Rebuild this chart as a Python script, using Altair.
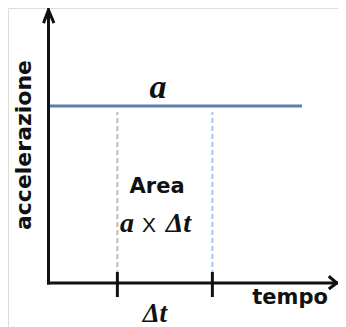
import altair as alt
import pandas as pd

# ---- data (in chart units: tempo on x, accelerazione on y) ----
W, H = 330, 319
x_domain = [-1.705, 12.189]
y_domain = [-1.243, 7.768]

accel_value = 5.0          # constant acceleration a
t_start = 0.0
t_line_end = 10.67
t1, t2 = 2.9, 6.9          # the Δt interval
x_axis_end = 12.14
y_axis_end = 7.71
dash_top = 4.83
tick_low, tick_high = -0.395, 0.31

# arrowheads (chevrons)
arrow_id = ["y", "y", "y", "x", "x", "x"]
arrow_ord = [0, 1, 2, 0, 1, 2]
arrow_t = [-0.21, 0.0, 0.23, 11.80, 12.14, 11.80]
arrow_a = [7.34, 7.71, 7.34, 0.19, 0.0, -0.17]

# labels
lab_text = ["Area", "tempo"]
lab_t = [4.57, 10.17]
lab_a = [2.542, -0.593]

xs = alt.Scale(domain=x_domain, nice=False, zero=False)
ys = alt.Scale(domain=y_domain, nice=False, zero=False)


def X(f="t"):
    return alt.X(f"{f}:Q", scale=xs, axis=None)


def Y(f="a"):
    return alt.Y(f"{f}:Q", scale=ys, axis=None)


axes_df = pd.DataFrame({
    "t": [t_start, t_start], "t2": [t_start, x_axis_end],
    "a": [t_start, t_start], "a2": [y_axis_end, t_start],
})
axes = alt.Chart(axes_df).mark_rule(color="#111111", strokeWidth=3, strokeCap="square").encode(
    x=X("t"), x2="t2:Q", y=Y("a"), y2="a2:Q")

ticks_df = pd.DataFrame({"t": [t1, t2], "a": [tick_low, tick_low], "a2": [tick_high, tick_high]})
ticks = alt.Chart(ticks_df).mark_rule(color="#111111", strokeWidth=3).encode(
    x=X("t"), y=Y("a"), y2="a2:Q")

dash_df = pd.DataFrame({"t": [t1, t2], "a": [0, 0], "a2": [dash_top, dash_top],
                        "c": ["#b9b9c2", "#a8c6ea"]})
dashes = alt.Chart(dash_df).mark_rule(strokeWidth=2, strokeDash=[5, 3]).encode(
    x=X("t"), y=Y("a"), y2="a2:Q", color=alt.Color("c:N", scale=None))

line_df = pd.DataFrame({"t": [t_start], "t2": [t_line_end], "a": [accel_value]})
aline = alt.Chart(line_df).mark_rule(color="#5a7fab", strokeWidth=3).encode(
    x=X("t"), x2="t2:Q", y=Y("a"))

arrow_df = pd.DataFrame({"id": arrow_id, "o": arrow_ord, "t": arrow_t, "a": arrow_a})
arrows = alt.Chart(arrow_df).mark_line(color="#111111", strokeWidth=3, strokeJoin="miter").encode(
    x=X("t"), y=Y("a"), detail="id:N", order="o:Q")

# "a" label above the line
a_lab = alt.Chart(pd.DataFrame({"t": [4.61], "a": [5.226], "s": ["a"]})).mark_text(
    font="Liberation Serif", fontStyle="italic", fontWeight="bold", fontSize=34,
    align="center", baseline="alphabetic", color="#111111").encode(x=X("t"), y=Y("a"), text="s:N")

sans_df = pd.DataFrame({"t": lab_t, "a": lab_a, "s": lab_text})
sans_lab = alt.Chart(sans_df).mark_text(
    font="DejaVu Sans", fontWeight="bold", fontSize=21,
    align="center", baseline="alphabetic", color="#111111").encode(x=X("t"), y=Y("a"), text="s:N")

# "a x Δt" formula
form_serif = alt.Chart(pd.DataFrame({"t": [3.30, 5.47], "a": [1.441, 1.441], "s": ["a", "Δt"]})).mark_text(
    font="Liberation Serif", fontStyle="italic", fontWeight="bold", fontSize=28,
    align="center", baseline="alphabetic", color="#111111").encode(x=X("t"), y=Y("a"), text="s:N")
form_x = alt.Chart(pd.DataFrame({"t": [4.23], "a": [1.441], "s": ["X"]})).mark_text(
    font="Liberation Sans", fontSize=21,
    align="center", baseline="alphabetic", color="#111111").encode(x=X("t"), y=Y("a"), text="s:N")

# Δt under the axis
dt_lab = alt.Chart(pd.DataFrame({"t": [4.48], "a": [-1.10], "s": ["Δt"]})).mark_text(
    font="Liberation Serif", fontStyle="italic", fontWeight="bold", fontSize=27,
    align="center", baseline="alphabetic", color="#111111").encode(x=X("t"), y=Y("a"), text="s:N")

# y axis title
ytitle = alt.Chart(pd.DataFrame({"t": [-0.737], "a": [3.898], "s": ["accelerazione"]})).mark_text(
    font="DejaVu Sans", fontWeight="bold", fontSize=22, angle=270,
    align="center", baseline="alphabetic", color="#111111").encode(x=X("t"), y=Y("a"), text="s:N")

chart = alt.layer(dashes, aline, axes, ticks, arrows, a_lab, sans_lab, form_serif, form_x, dt_lab, ytitle).properties(
    width=W, height=H, padding=0, autosize=alt.AutoSizeParams(type="none")
).configure_view(stroke=None).configure(background="white")

chart.save("out.html", embed_options={"renderer": "svg", "actions": False})
